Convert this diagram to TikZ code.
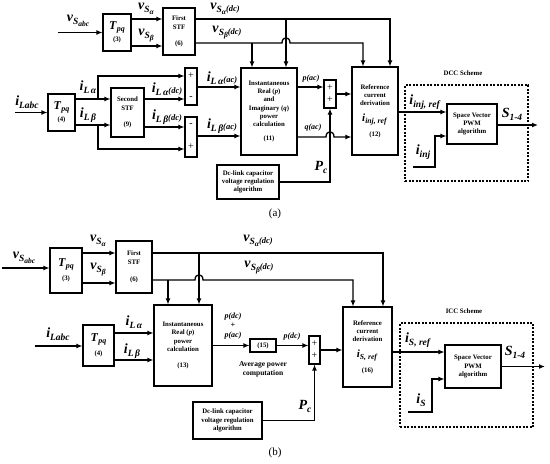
\documentclass[tikz,border=0pt]{standalone}
\usepackage{amsmath}
\usepackage{fontspec}
\setmainfont{Liberation Serif}
\usetikzlibrary{arrows.meta}
\newcommand{\bi}[1]{\textbf{\textit{#1}}}
\newcommand{\lsub}[1]{\raisebox{-3pt}{\fontsize{9.5}{10}\selectfont\bi{#1}}}
\newcommand{\llsub}[1]{\raisebox{-2pt}{\fontsize{7.5}{8}\selectfont\bi{#1}}}
\newcommand{\dcac}[1]{\raisebox{-1.5pt}{\fontsize{8.5}{9}\selectfont\bi{(#1)}}}
\newcommand{\tpq}{{\fontsize{12}{13}\selectfont\bi{T}\raisebox{-2pt}{\fontsize{8}{9}\selectfont\bi{pq}}}}
\tikzset{
  blk/.style={draw, line width=1.1pt, align=center, inner sep=1pt, font=\fontsize{6.8}{8.2}\selectfont\bfseries},
  sumbox/.style={draw, line width=1.1pt, minimum width=12pt, align=center, inner sep=0pt, font=\fontsize{10}{11}\selectfont},
  lab/.style={inner sep=0pt, font=\fontsize{14}{15}\selectfont},
  smalllab/.style={inner sep=0pt, align=center, font=\fontsize{8}{9.5}\selectfont\bfseries\itshape},
  wire/.style={line width=1.3pt},
  scheme/.style={draw, line width=1.1pt, dash pattern=on 2pt off 1.5pt},
}
\begin{document}
\begin{tikzpicture}[x=1pt, y=-1pt, >={Latex[length=6pt,width=5pt]}]
\useasboundingbox (0,0) rectangle (550,464);

\node [blk, minimum width=28pt, minimum height=37pt] (tpqA) at (117,32.5) {\tpq\\[3pt](3)};
\node [blk, minimum width=32pt, minimum height=47pt] (stfA) at (179,31.5) {First\\STF\\[8pt](6)};
\node [blk, minimum width=27pt, minimum height=37pt] (tpqB) at (61.5,112.5) {\tpq\\[3pt](4)};
\node [blk, minimum width=33pt, minimum height=49pt] (stfB) at (127.5,112.5) {Second\\STF\\[8pt](9)};
\node [sumbox, minimum height=37pt] (sumA1) at (191,86.5) {+\\[10pt]-};
\node [sumbox, minimum height=40pt] (sumA2) at (191,137) {-\\[12pt]+};
\node [blk, minimum width=56pt, minimum height=87pt] (instA) at (269,111.5) {Instantaneous\\Real (\textit{p})\\and\\Imaginary (\textit{q})\\power\\calculation\\[6pt](11)};
\node [sumbox, minimum height=28pt] (sumA3) at (330,94) {+\\[1pt]+};
\node [blk, minimum width=46pt, minimum height=88pt] (refA) at (375,111) {Reference\\current\\derivation\\[8pt]{\fontsize{11}{12}\selectfont\bi{i}$_{\bi{inj, ref}}$}\\[6pt](12)};
\node [blk, minimum width=62pt, minimum height=34pt] (dcA) at (248,182) {Dc-link capacitor\\voltage regulation\\algorithm};
\node [blk, minimum width=50pt, minimum height=40pt] (svA) at (472,124) {Space Vector\\PWM\\algorithm};
\node [scheme, minimum width=123pt, minimum height=96pt] (dccA) at (466.5,133) {};

\coordinate (inA) at (58,32.5);
\coordinate (inB) at (15,112.5);
\coordinate (jA1) at (286,19);
\coordinate (jA2) at (252,43);
\coordinate (jB1) at (98,99);
\coordinate (jB2) at (98,125);
\coordinate (outA) at (538,125);
\coordinate (injA) at (413,167);

\draw [wire,->] (inA) -- (tpqA.west);
\draw [wire,->] (tpqA.east |- 0,19) -- (stfA.west |- 0,19);
\draw [wire,->] (tpqA.east |- 0,46) -- (stfA.west |- 0,46);
\draw [wire,->] (stfA.east |- 0,19) -| (refA.north -| 390,0);
\draw [wire,->] (jA1) -- (instA.north -| jA1);
\draw [wire,->] (stfA.east |- 0,43) -- (282,43) .. controls (282,36) and (290,36) .. (290,43) -| (refA.north -| 363,0);
\draw [wire,->] (jA2) -- (instA.north -| jA2);
\draw [wire,->] (inB) -- (tpqB.west);
\draw [wire,->] (tpqB.east |- jB1) -- (stfB.west |- jB1);
\draw [wire,->] (jB1) |- (sumA1.west |- 0,76);
\draw [wire,->] (tpqB.east |- jB2) -- (stfB.west |- jB2);
\draw [wire,->] (jB2) |- (sumA2.west |- 0,149);
\draw [wire,->] (stfB.east |- 0,99) -- (sumA1.west |- 0,99);
\draw [wire,->] (stfB.east |- 0,127) -- (sumA2.west |- 0,127);
\draw [wire,->] (sumA1.east |- 0,87) -- (instA.west |- 0,87);
\draw [wire,->] (sumA2.east |- 0,136) -- (instA.west |- 0,136);
\draw [wire,->] (instA.east |- 0,87) -- (sumA3.west |- 0,87);
\draw [wire,->] (sumA3.east) -- (refA.west |- sumA3.east);
\draw [wire,->] (instA.east |- 0,137) -- (326,137) .. controls (326,130) and (334,130) .. (334,137) -- (refA.west |- 0,137);
\draw [wire,->] (dcA.east) -| (sumA3.south);
\draw [wire,->] (refA.east |- 0,112) -- (svA.west |- 0,112);
\draw [wire,->] (svA.east |- outA) -- (outA);
\draw [wire,->] (injA) -- (435,167) |- (svA.west |- 0,136);

\node [lab] (vabcA) at (78,21) {\bi{v}\lsub{S\llsub{abc}}};
\node [lab] (valA) at (146,9) {\bi{v}\lsub{S\llsub{α}}};
\node [lab] (vbeA) at (146,36) {\bi{v}\lsub{S\llsub{β}}};
\node [lab] (valdcA) at (225,9) {\bi{v}\lsub{S\llsub{α}}\dcac{dc}};
\node [lab] (vbedcA) at (227,33) {\bi{v}\lsub{S\llsub{β}}\dcac{dc}};
\node [lab] (iabcA) at (27,102) {\bi{i}\lsub{Labc}};
\node [lab] (ialA) at (88,87) {\bi{i}\lsub{L\,α}};
\node [lab] (ibeA) at (88,115) {\bi{i}\lsub{L\,β}};
\node [lab] (ialdcA) at (167,89) {\bi{i}\lsub{L\,α}\dcac{dc}};
\node [lab] (ibedcA) at (167,117) {\bi{i}\lsub{L\,β}\dcac{dc}};
\node [lab] (ialacA) at (222,78) {\bi{i}\lsub{L\,α}\dcac{ac}};
\node [lab] (ibeacA) at (222,126) {\bi{i}\lsub{L\,β}\dcac{ac}};
\node [smalllab] (pacA) at (311,79) {p(ac)};
\node [smalllab] (qacA) at (313,128) {q(ac)};
\node [lab] (pcA) at (321,167) {\bi{P}\lsub{c}};
\node [lab] (irefA) at (425,102) {\bi{i}\lsub{inj, ref}};
\node [lab] (sA) at (512,114) {\bi{S}\lsub{1-4}};
\node [lab] (iinjA) at (423,152) {\bi{i}\lsub{inj}};
\node [blk, draw=none] (dcctA) at (463,73) {DCC Scheme};
\node [font=\fontsize{11}{12}\selectfont] (capA) at (275,214) {(a)};

\node [blk, minimum width=32pt, minimum height=45pt] (tpqC) at (66,270.5) {\tpq\\[5pt](3)};
\node [blk, minimum width=36pt, minimum height=52pt] (stfC) at (134,267) {First\\STF\\[9pt](6)};
\node [blk, minimum width=31pt, minimum height=41pt] (tpqD) at (98.5,345.5) {\tpq\\[5pt](4)};
\node [blk, minimum width=58pt, minimum height=81pt] (instC) at (183,345.5) {Instantaneous\\Real (\textit{p})\\power\\calculation\\[8pt](13)};
\node [blk, minimum width=26pt, minimum height=13pt] (avgC) at (263,345.5) {(15)};
\node [sumbox, minimum width=11pt, minimum height=28pt] (sumC) at (314.5,350) {+\\[1pt]+};
\node [blk, minimum width=49pt, minimum height=80pt] (refC) at (367.5,347) {Reference\\current\\derivation\\[8pt]{\fontsize{11}{12}\selectfont\bi{i}$_{\bi{S, ref}}$}\\[6pt](16)};
\node [blk, minimum width=69pt, minimum height=37pt] (dcC) at (227.5,420.5) {Dc-link capacitor\\voltage regulation\\algorithm};
\node [blk, minimum width=56pt, minimum height=43pt] (svC) at (473,366.5) {Space Vector\\PWM\\algorithm};
\node [scheme, minimum width=133pt, minimum height=104pt] (iccC) at (466.5,375) {};

\coordinate (inC) at (2,268);
\coordinate (inD) at (35,346);
\coordinate (jC1) at (199,253);
\coordinate (jC2) at (168,280);
\coordinate (outC) at (545,366.5);
\coordinate (isC) at (408,412);

\draw [wire,->] (inC) -- (tpqC.west |- inC);
\draw [wire,->] (tpqC.east |- 0,253) -- (stfC.west |- 0,253);
\draw [wire,->] (tpqC.east |- 0,283) -- (stfC.west |- 0,283);
\draw [wire,->] (stfC.east |- jC1) -| (refC.north -| 383,0);
\draw [wire,->] (jC1) -- (instC.north -| jC1);
\draw [wire,->] (stfC.east |- jC2) -- (195,280) .. controls (195,273) and (203,273) .. (203,280) -| (refC.north -| 353,0);
\draw [wire,->] (jC2) -- (instC.north -| jC2);
\draw [wire,->] (inD) -- (tpqD.west |- inD);
\draw [wire,->] (tpqD.east |- 0,333) -- (instC.west |- 0,333);
\draw [wire,->] (tpqD.east |- 0,360) -- (instC.west |- 0,360);
\draw [wire,->] (instC.east |- avgC.west) -- (avgC.west);
\draw [wire,->] (avgC.east) -- (sumC.west |- avgC.east);
\draw [wire,->] (sumC.east) -- (refC.west |- sumC.east);
\draw [wire,->] (dcC.east) -| (sumC.south);
\draw [wire,->] (refC.east |- 0,352) -- (svC.west |- 0,352);
\draw [wire,->] (svC.east) -- (outC);
\draw [wire,->] (isC) -- (432,412) |- (svC.west |- 0,379);

\node [lab] (vabcC) at (24,258) {\bi{v}\lsub{S\llsub{abc}}};
\node [lab] (valC) at (98,241) {\bi{v}\lsub{S\llsub{α}}};
\node [lab] (vbeC) at (98,270) {\bi{v}\lsub{S\llsub{β}}};
\node [lab] (valdcC) at (258,241) {\bi{v}\lsub{S\llsub{α}}\dcac{dc}};
\node [lab] (vbedcC) at (259,268) {\bi{v}\lsub{S\llsub{β}}\dcac{dc}};
\node [lab] (iabcC) at (58,334) {\bi{i}\lsub{Labc}};
\node [lab] (ialC) at (134,322) {\bi{i}\lsub{L\,α}};
\node [lab] (ibeC) at (132,351) {\bi{i}\lsub{L\,β}};
\node [smalllab] (ppC) at (233,326) {p(dc)\\+\\p(ac)};
\node [smalllab] (pdcC) at (292,337) {p(dc)};
\node [blk, draw=none, font=\fontsize{7.5}{9}\selectfont\bfseries] (avgtC) at (263,369) {Average power\\computation};
\node [lab] (pcC) at (305,406) {\bi{P}\lsub{c}};
\node [lab] (irefC) at (418,340) {\bi{i}\lsub{S, ref}};
\node [lab] (sC) at (515,352) {\bi{S}\lsub{1-4}};
\node [lab] (isL) at (421,400) {\bi{i}\lsub{S}};
\node [blk, draw=none] (icctC) at (464,311) {ICC Scheme};
\node [font=\fontsize{11}{12}\selectfont] (capC) at (275,453) {(b)};
\end{tikzpicture}
\end{document}
